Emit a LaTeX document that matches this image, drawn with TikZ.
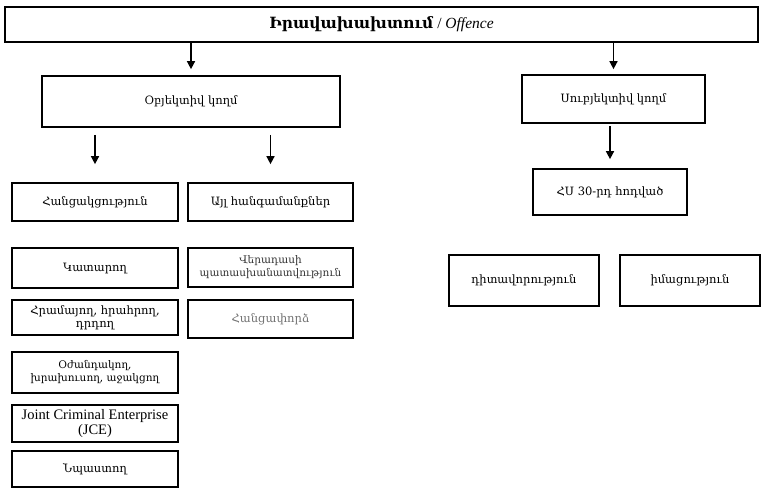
\documentclass[tikz,border=0pt]{standalone}
\usepackage{fontspec}
\setmainfont{Liberation Serif}
\newfontfamily\arm{DejaVu Serif}
\usetikzlibrary{arrows.meta}
\tikzset{
  bx/.style={draw=black, line width=1.7pt, fill=white, inner sep=2pt, align=center, font=\arm\fontsize{11.5}{13}\selectfont},
  arr/.style={-{Triangle[length=8pt,width=8pt]}, line width=1.5pt},
}
\begin{document}
\begin{tikzpicture}[x=1pt,y=-1pt]
\useasboundingbox (0,0) rectangle (766,491);
\node[bx, minimum width=753pt, minimum height=35pt, font=\fontsize{15.5}{17}\selectfont] (top) at (381.5,24.5) {{\arm\bfseries Իրավախախտում} / \textit{Offence}};
\node[bx, minimum width=298pt, minimum height=51pt] (obj) at (191,101.5) {Օբյեկտիվ կողմ};
\node[bx, minimum width=183pt, minimum height=48pt] (subj) at (613.5,99) {Սուբյեկտիվ կողմ};
\node[bx, minimum width=166pt, minimum height=38pt] (comp) at (95,202) {Հանցակցություն};
\node[bx, minimum width=165pt, minimum height=38pt] (oth) at (270.5,202) {Այլ հանգամանքներ};
\node[bx, minimum width=154pt, minimum height=46pt] (rs) at (610,192) {ՀՍ 30-րդ հոդված};
\node[bx, minimum width=166pt, minimum height=40pt] (l1) at (95,268) {Կատարող};
\node[bx, minimum width=166pt, minimum height=35pt] (l2) at (95,317.5) {Հրամայող, հրահրող,\\դրդող};
\node[bx, minimum width=166pt, minimum height=41pt, font=\arm\fontsize{10.5}{13}\selectfont] (l3) at (95,372.5) {Օժանդակող,\\խրախուսող, աջակցող};
\node[bx, minimum width=166pt, minimum height=37pt, font=\fontsize{14.5}{15}\selectfont] (l4) at (95,423.5) {Joint Criminal Enterprise\\(JCE)};
\node[bx, minimum width=166pt, minimum height=36pt] (l5) at (95,469) {Նպաստող};
\node[bx, minimum width=165pt, minimum height=39pt, text=black!80, font=\arm\fontsize{10.5}{13}\selectfont] (m1) at (270.5,267.5) {Վերադասի\\պատասխանատվություն};
\node[bx, minimum width=165pt, minimum height=38pt, text=black!55] (m2) at (270.5,319) {Հանցափորձ};
\node[bx, minimum width=150pt, minimum height=51pt] (r1) at (524,280.5) {դիտավորություն};
\node[bx, minimum width=140pt, minimum height=51pt] (r2) at (690,280.5) {իմացություն};
\draw[arr, shorten >=6pt] (top.south -| obj.north) -- (obj.north);
\draw[arr, shorten >=5pt] (top.south -| subj.north) -- (subj.north);
\draw[arr, shorten <=7pt, shorten >=18pt] (obj.south -| comp.north) -- (comp.north);
\draw[arr, shorten <=7pt, shorten >=18pt] (obj.south -| oth.north) -- (oth.north);
\draw[arr, shorten <=2pt, shorten >=9pt] (subj.south -| rs.north) -- (rs.north);
\end{tikzpicture}
\end{document}
